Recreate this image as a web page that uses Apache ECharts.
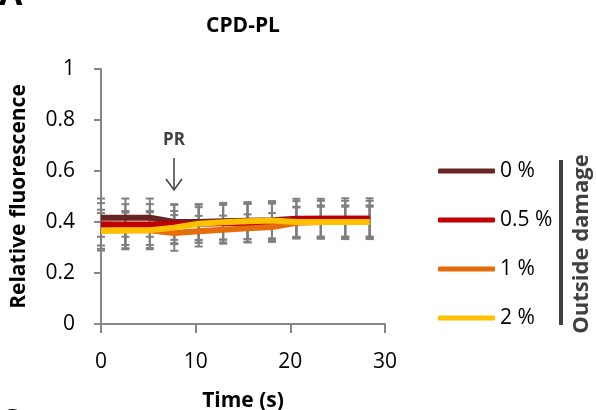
<!DOCTYPE html>
<html><head><meta charset="utf-8">
<script src="https://cdn.jsdelivr.net/npm/echarts@6/dist/echarts.min.js"></script>
<style>html,body{margin:0;padding:0;background:#fff}#c{width:596px;height:410px}</style>
</head><body><div id="c"></div>
<script>
const times = [0, 2.58, 5.16, 7.74, 10.32, 12.9, 15.48, 18.06, 20.64, 23.22, 25.8, 28.38];
const seriesNames = ['0 %', '0.5 %', '1 %', '2 %'];
const colors = ['#6b2424', '#c00000', '#e46c0a', '#ffc000'];
const v0 = [0.417, 0.417, 0.417, 0.400, 0.400, 0.403, 0.405, 0.407, 0.413, 0.413, 0.413, 0.413];
const v05 = [0.391, 0.390, 0.390, 0.392, 0.393, 0.395, 0.396, 0.397, 0.412, 0.413, 0.413, 0.413];
const v1 = [0.368, 0.368, 0.368, 0.357, 0.364, 0.370, 0.375, 0.380, 0.397, 0.400, 0.400, 0.400];
const v2 = [0.365, 0.367, 0.368, 0.378, 0.393, 0.399, 0.403, 0.406, 0.400, 0.400, 0.400, 0.400];
const e0 = [0.075, 0.075, 0.075, 0.070, 0.070, 0.072, 0.073, 0.075, 0.078, 0.078, 0.080, 0.080];
const e05 = [0.083, 0.080, 0.080, 0.075, 0.075, 0.075, 0.075, 0.075, 0.070, 0.070, 0.070, 0.070];
const e1 = [0.080, 0.075, 0.075, 0.070, 0.060, 0.055, 0.055, 0.055, 0.060, 0.065, 0.065, 0.065];
const e2 = [0.070, 0.070, 0.070, 0.065, 0.065, 0.068, 0.070, 0.070, 0.060, 0.060, 0.060, 0.060];
const xTicks = [0, 10, 20, 30];
const yTicks = [0, 0.2, 0.4, 0.6, 0.8, 1];

const vals = [v0, v05, v1, v2];
const errs = [e0, e05, e1, e2];
const font = '"Open Sans", sans-serif';

const chart = echarts.init(document.getElementById('c'));

const errSeries = vals.map((v, si) => ({
  type: 'custom',
  name: 'err' + si,
  z: 1,
  silent: true,
  data: times.map((t, i) => [t, v[i] - errs[si][i], v[i] + errs[si][i]]),
  renderItem: function (params, api) {
    const lo = api.coord([api.value(0), api.value(1)]);
    const hi = api.coord([api.value(0), api.value(2)]);
    const w = 4;
    const st = { stroke: '#7f7f7f', lineWidth: 2 };
    return { type: 'group', children: [
      { type: 'line', shape: { x1: lo[0], y1: lo[1], x2: hi[0], y2: hi[1] }, style: st },
      { type: 'line', shape: { x1: lo[0] - w, y1: lo[1], x2: lo[0] + w, y2: lo[1] }, style: st },
      { type: 'line', shape: { x1: hi[0] - w, y1: hi[1], x2: hi[0] + w, y2: hi[1] }, style: st }
    ]};
  }
}));

const lineSeries = vals.map((v, si) => ({
  type: 'line',
  name: seriesNames[si],
  z: 3 + si,
  data: times.map((t, i) => [t, v[i]]),
  showSymbol: false,
  symbol: 'none',
  lineStyle: { color: colors[si], width: 6 },
  itemStyle: { color: colors[si] }
}));

chart.setOption({
  animation: false,
  textStyle: { fontFamily: font },
  grid: { left: 101, top: 69, width: 284, height: 255, containLabel: false, outerBoundsMode: 'none' },
  xAxis: {
    type: 'value', min: 0, max: 30, interval: 10,
    name: 'Time (s)', nameLocation: 'middle', nameGap: 67,
    nameTextStyle: { fontSize: 21, fontWeight: 'bold', color: '#000', fontFamily: font },
    axisLine: { lineStyle: { color: '#868686', width: 2 } },
    axisTick: { inside: false, length: 9, lineStyle: { color: '#868686', width: 2 } },
    axisLabel: { fontSize: 21, color: '#000', margin: 28, fontFamily: font,
      formatter: v => xTicks.includes(v) ? String(v) : '' },
    splitLine: { show: false }
  },
  yAxis: {
    type: 'value', min: 0, max: 1, interval: 0.2,
    name: 'Relative fluorescence', nameLocation: 'middle', nameGap: 71, nameRotate: 90,
    nameTextStyle: { fontSize: 21, fontWeight: 'bold', color: '#000', fontFamily: font },
    axisLine: { show: true, lineStyle: { color: '#868686', width: 2 } },
    axisTick: { show: true, length: 7, lineStyle: { color: '#868686', width: 2 } },
    axisLabel: { fontSize: 21, color: '#000', margin: 26, fontFamily: font,
      formatter: v => { const t = yTicks.find(y => Math.abs(y - v) < 1e-9); return t === undefined ? '' : String(t); } },
    splitLine: { show: false }
  },
  legend: {
    orient: 'vertical', left: 433, top: 154,
    data: seriesNames.map((n, i) => ({ name: n, icon: 'roundRect', itemStyle: { color: colors[i] } })),
    itemWidth: 57, itemHeight: 5, itemGap: 25, itemTextGap: 2,
    textStyle: { fontSize: 21, lineHeight: 24, color: '#000', fontFamily: font },
    selectedMode: false
  },
  series: [...errSeries, ...lineSeries],
  graphic: [
    { type: 'text', style: { text: 'CPD-PL', x: 243, y: 26, font: 'bold 21px ' + font, fill: '#000', textAlign: 'center', textVerticalAlign: 'middle' } },
    { type: 'text', style: { text: 'A', x: -1, y: -22, font: 'bold 34px ' + font, fill: '#000' } },
    { type: 'text', style: { text: 'C', x: -1, y: 406, font: 'bold 34px ' + font, fill: '#000' } },
    { type: 'text', style: { text: 'PR', x: 174, y: 140, font: 'bold 17px ' + font, fill: '#404040', textAlign: 'center', textVerticalAlign: 'middle' } },
    { type: 'line', shape: { x1: 174, y1: 158, x2: 174, y2: 190 }, style: { stroke: '#404040', lineWidth: 1.5 } },
    { type: 'polyline', shape: { points: [[166, 179], [174, 190], [182, 179]] }, style: { stroke: '#404040', lineWidth: 1.5, fill: null } },
    { type: 'rect', shape: { x: 559, y: 160, width: 4, height: 165 }, style: { fill: '#404040' } },
    { type: 'text', rotation: Math.PI / 2, x: 582, y: 244, style: { text: 'Outside damage', font: 'bold 22px ' + font, fill: '#404040', textAlign: 'center', textVerticalAlign: 'middle' } }
  ]
});
</script></body></html>
